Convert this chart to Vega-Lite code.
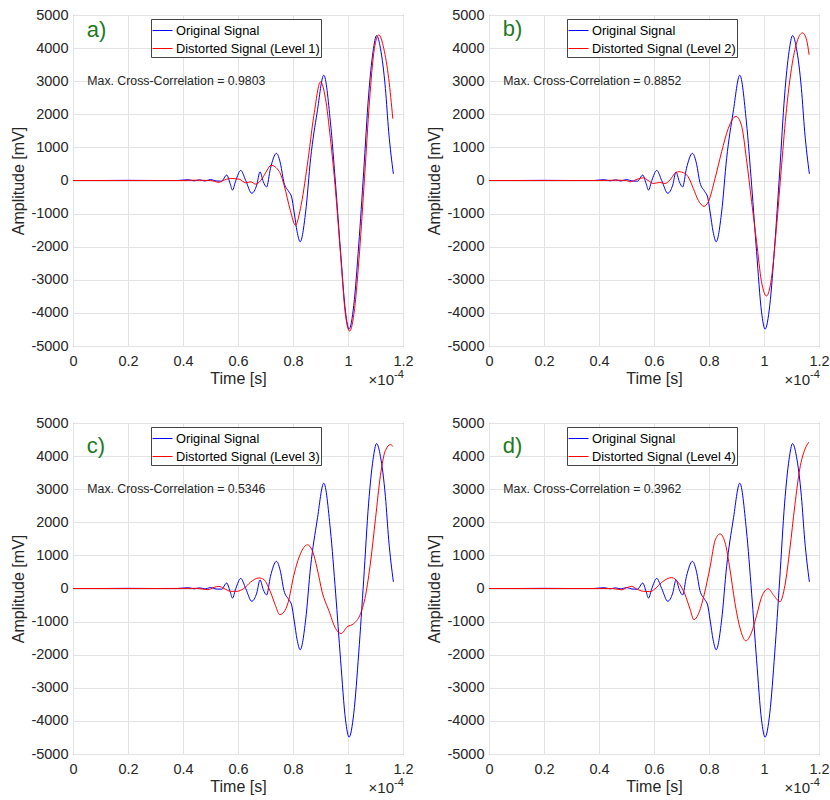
{
  "$schema": "https://vega.github.io/schema/vega-lite/v6.json",
  "background": "white",
  "padding": {"left": 10, "top": 6, "right": 5, "bottom": 5},
  "bounds": "flush",
  "columns": 2,
  "spacing": {"row": 77, "column": 86},
  "resolve": {"scale": {"color": "shared"}, "legend": {"color": "independent"}},
  "config": {
    "font": "Liberation Sans",
    "view": {"stroke": "#666666", "strokeWidth": 1},
    "axis": {
      "labelFont": "Liberation Sans", "labelFontSize": 14.5, "labelColor": "#262626",
      "titleFont": "Liberation Sans", "titleFontSize": 16, "titleFontWeight": "normal", "titleColor": "#262626",
      "gridColor": "#e3e3e3", "gridWidth": 1, "domain": false, "ticks": false,
      "labelOverlap": false, "labelFlush": false, "labelBound": false
    },
    "legend": {
      "orient": "none", "legendX": 78, "legendY": 4, "title": null,
      "strokeColor": "#444444", "fillColor": "white", "padding": 1,
      "symbolType": "stroke", "symbolSize": 400, "symbolStrokeWidth": 1,
      "labelFont": "Liberation Sans", "labelFontSize": 12.8, "labelColor": "#000000",
      "labelOffset": 3, "rowPadding": 0
    }
  },
  "datasets": {
    "orig": [
      {"s": "Original Signal", "t": 0, "v": 0}, {"s": "Original Signal", "t": 0.1, "v": 0}, {"s": "Original Signal", "t": 0.2, "v": 5}, {"s": "Original Signal", "t": 0.3, "v": 0}, {"s": "Original Signal", "t": 0.38, "v": 0},
      {"s": "Original Signal", "t": 0.42, "v": 25}, {"s": "Original Signal", "t": 0.44, "v": -10}, {"s": "Original Signal", "t": 0.46, "v": 20}, {"s": "Original Signal", "t": 0.48, "v": -15}, {"s": "Original Signal", "t": 0.5, "v": 30},
      {"s": "Original Signal", "t": 0.52, "v": -15}, {"s": "Original Signal", "t": 0.54, "v": -20}, {"s": "Original Signal", "t": 0.559, "v": 165}, {"s": "Original Signal", "t": 0.571, "v": -85}, {"s": "Original Signal", "t": 0.58, "v": -290},
      {"s": "Original Signal", "t": 0.592, "v": 0}, {"s": "Original Signal", "t": 0.61, "v": 305}, {"s": "Original Signal", "t": 0.628, "v": 0}, {"s": "Original Signal", "t": 0.65, "v": -385}, {"s": "Original Signal", "t": 0.668, "v": -140},
      {"s": "Original Signal", "t": 0.68, "v": 260}, {"s": "Original Signal", "t": 0.692, "v": -35}, {"s": "Original Signal", "t": 0.704, "v": -195}, {"s": "Original Signal", "t": 0.718, "v": 365}, {"s": "Original Signal", "t": 0.74, "v": 820},
      {"s": "Original Signal", "t": 0.755, "v": 490}, {"s": "Original Signal", "t": 0.767, "v": -60}, {"s": "Original Signal", "t": 0.785, "v": -340}, {"s": "Original Signal", "t": 0.795, "v": -500}, {"s": "Original Signal", "t": 0.804, "v": -950},
      {"s": "Original Signal", "t": 0.815, "v": -1550}, {"s": "Original Signal", "t": 0.826, "v": -1850}, {"s": "Original Signal", "t": 0.846, "v": -950}, {"s": "Original Signal", "t": 0.864, "v": 660}, {"s": "Original Signal", "t": 0.888, "v": 2070},
      {"s": "Original Signal", "t": 0.912, "v": 3180}, {"s": "Original Signal", "t": 0.936, "v": 1770}, {"s": "Original Signal", "t": 0.955, "v": -140}, {"s": "Original Signal", "t": 0.973, "v": -2150}, {"s": "Original Signal", "t": 0.991, "v": -3970},
      {"s": "Original Signal", "t": 1.004, "v": -4490}, {"s": "Original Signal", "t": 1.021, "v": -3770}, {"s": "Original Signal", "t": 1.039, "v": -1950}, {"s": "Original Signal", "t": 1.057, "v": 260}, {"s": "Original Signal", "t": 1.075, "v": 2580},
      {"s": "Original Signal", "t": 1.091, "v": 3890}, {"s": "Original Signal", "t": 1.104, "v": 4380}, {"s": "Original Signal", "t": 1.118, "v": 3990}, {"s": "Original Signal", "t": 1.136, "v": 2780}, {"s": "Original Signal", "t": 1.148, "v": 1470},
      {"s": "Original Signal", "t": 1.165, "v": 200}
    ],
    "d1": [
      {"s": "Distorted Signal (Level 1)", "t": 0, "v": 0}, {"s": "Distorted Signal (Level 1)", "t": 0.2, "v": 0}, {"s": "Distorted Signal (Level 1)", "t": 0.4, "v": 0}, {"s": "Distorted Signal (Level 1)", "t": 0.45, "v": 10}, {"s": "Distorted Signal (Level 1)", "t": 0.5, "v": 0},
      {"s": "Distorted Signal (Level 1)", "t": 0.531, "v": -55}, {"s": "Distorted Signal (Level 1)", "t": 0.543, "v": -10}, {"s": "Distorted Signal (Level 1)", "t": 0.573, "v": 60}, {"s": "Distorted Signal (Level 1)", "t": 0.604, "v": 40}, {"s": "Distorted Signal (Level 1)", "t": 0.628, "v": -70},
      {"s": "Distorted Signal (Level 1)", "t": 0.646, "v": -40}, {"s": "Distorted Signal (Level 1)", "t": 0.664, "v": -110}, {"s": "Distorted Signal (Level 1)", "t": 0.688, "v": 60}, {"s": "Distorted Signal (Level 1)", "t": 0.705, "v": 300}, {"s": "Distorted Signal (Level 1)", "t": 0.72, "v": 460},
      {"s": "Distorted Signal (Level 1)", "t": 0.75, "v": 270}, {"s": "Distorted Signal (Level 1)", "t": 0.768, "v": -150}, {"s": "Distorted Signal (Level 1)", "t": 0.79, "v": -900}, {"s": "Distorted Signal (Level 1)", "t": 0.809, "v": -1350}, {"s": "Distorted Signal (Level 1)", "t": 0.827, "v": -850},
      {"s": "Distorted Signal (Level 1)", "t": 0.852, "v": 460}, {"s": "Distorted Signal (Level 1)", "t": 0.876, "v": 1970}, {"s": "Distorted Signal (Level 1)", "t": 0.9, "v": 2980}, {"s": "Distorted Signal (Level 1)", "t": 0.918, "v": 2480}, {"s": "Distorted Signal (Level 1)", "t": 0.936, "v": 1270},
      {"s": "Distorted Signal (Level 1)", "t": 0.955, "v": -340}, {"s": "Distorted Signal (Level 1)", "t": 0.973, "v": -2250}, {"s": "Distorted Signal (Level 1)", "t": 0.991, "v": -4070}, {"s": "Distorted Signal (Level 1)", "t": 1.006, "v": -4550}, {"s": "Distorted Signal (Level 1)", "t": 1.024, "v": -3870},
      {"s": "Distorted Signal (Level 1)", "t": 1.042, "v": -2150}, {"s": "Distorted Signal (Level 1)", "t": 1.06, "v": 60}, {"s": "Distorted Signal (Level 1)", "t": 1.078, "v": 2380}, {"s": "Distorted Signal (Level 1)", "t": 1.096, "v": 3990}, {"s": "Distorted Signal (Level 1)", "t": 1.112, "v": 4400},
      {"s": "Distorted Signal (Level 1)", "t": 1.13, "v": 3990}, {"s": "Distorted Signal (Level 1)", "t": 1.148, "v": 3080}, {"s": "Distorted Signal (Level 1)", "t": 1.163, "v": 1870}
    ],
    "d2": [
      {"s": "Distorted Signal (Level 2)", "t": 0, "v": 0}, {"s": "Distorted Signal (Level 2)", "t": 0.2, "v": 0}, {"s": "Distorted Signal (Level 2)", "t": 0.4, "v": 0}, {"s": "Distorted Signal (Level 2)", "t": 0.47, "v": 10}, {"s": "Distorted Signal (Level 2)", "t": 0.5, "v": 0},
      {"s": "Distorted Signal (Level 2)", "t": 0.513, "v": -40}, {"s": "Distorted Signal (Level 2)", "t": 0.525, "v": -10}, {"s": "Distorted Signal (Level 2)", "t": 0.55, "v": 70}, {"s": "Distorted Signal (Level 2)", "t": 0.561, "v": 80}, {"s": "Distorted Signal (Level 2)", "t": 0.579, "v": 0},
      {"s": "Distorted Signal (Level 2)", "t": 0.597, "v": -90}, {"s": "Distorted Signal (Level 2)", "t": 0.621, "v": -60}, {"s": "Distorted Signal (Level 2)", "t": 0.64, "v": -90}, {"s": "Distorted Signal (Level 2)", "t": 0.658, "v": 15}, {"s": "Distorted Signal (Level 2)", "t": 0.676, "v": 215},
      {"s": "Distorted Signal (Level 2)", "t": 0.69, "v": 265}, {"s": "Distorted Signal (Level 2)", "t": 0.712, "v": 215}, {"s": "Distorted Signal (Level 2)", "t": 0.724, "v": 115}, {"s": "Distorted Signal (Level 2)", "t": 0.743, "v": -240}, {"s": "Distorted Signal (Level 2)", "t": 0.761, "v": -600},
      {"s": "Distorted Signal (Level 2)", "t": 0.782, "v": -780}, {"s": "Distorted Signal (Level 2)", "t": 0.797, "v": -650}, {"s": "Distorted Signal (Level 2)", "t": 0.822, "v": 60}, {"s": "Distorted Signal (Level 2)", "t": 0.846, "v": 870}, {"s": "Distorted Signal (Level 2)", "t": 0.87, "v": 1570},
      {"s": "Distorted Signal (Level 2)", "t": 0.898, "v": 1940}, {"s": "Distorted Signal (Level 2)", "t": 0.918, "v": 1670}, {"s": "Distorted Signal (Level 2)", "t": 0.936, "v": 660}, {"s": "Distorted Signal (Level 2)", "t": 0.955, "v": -640}, {"s": "Distorted Signal (Level 2)", "t": 0.973, "v": -1850},
      {"s": "Distorted Signal (Level 2)", "t": 0.991, "v": -3060}, {"s": "Distorted Signal (Level 2)", "t": 1.009, "v": -3490}, {"s": "Distorted Signal (Level 2)", "t": 1.027, "v": -2960}, {"s": "Distorted Signal (Level 2)", "t": 1.045, "v": -1450}, {"s": "Distorted Signal (Level 2)", "t": 1.064, "v": 460},
      {"s": "Distorted Signal (Level 2)", "t": 1.082, "v": 2170}, {"s": "Distorted Signal (Level 2)", "t": 1.106, "v": 3690}, {"s": "Distorted Signal (Level 2)", "t": 1.14, "v": 4460}, {"s": "Distorted Signal (Level 2)", "t": 1.155, "v": 4240}, {"s": "Distorted Signal (Level 2)", "t": 1.164, "v": 3800}
    ],
    "d3": [
      {"s": "Distorted Signal (Level 3)", "t": 0, "v": 0}, {"s": "Distorted Signal (Level 3)", "t": 0.2, "v": 0}, {"s": "Distorted Signal (Level 3)", "t": 0.3, "v": 0}, {"s": "Distorted Signal (Level 3)", "t": 0.45, "v": 5}, {"s": "Distorted Signal (Level 3)", "t": 0.49, "v": -35},
      {"s": "Distorted Signal (Level 3)", "t": 0.513, "v": 35}, {"s": "Distorted Signal (Level 3)", "t": 0.531, "v": 65}, {"s": "Distorted Signal (Level 3)", "t": 0.549, "v": 0}, {"s": "Distorted Signal (Level 3)", "t": 0.573, "v": -85}, {"s": "Distorted Signal (Level 3)", "t": 0.597, "v": -85},
      {"s": "Distorted Signal (Level 3)", "t": 0.621, "v": 0}, {"s": "Distorted Signal (Level 3)", "t": 0.646, "v": 195}, {"s": "Distorted Signal (Level 3)", "t": 0.676, "v": 320}, {"s": "Distorted Signal (Level 3)", "t": 0.694, "v": 270}, {"s": "Distorted Signal (Level 3)", "t": 0.718, "v": -105},
      {"s": "Distorted Signal (Level 3)", "t": 0.736, "v": -510}, {"s": "Distorted Signal (Level 3)", "t": 0.752, "v": -790}, {"s": "Distorted Signal (Level 3)", "t": 0.767, "v": -710}, {"s": "Distorted Signal (Level 3)", "t": 0.782, "v": -430}, {"s": "Distorted Signal (Level 3)", "t": 0.803, "v": 400},
      {"s": "Distorted Signal (Level 3)", "t": 0.827, "v": 1050}, {"s": "Distorted Signal (Level 3)", "t": 0.852, "v": 1320}, {"s": "Distorted Signal (Level 3)", "t": 0.87, "v": 1150}, {"s": "Distorted Signal (Level 3)", "t": 0.888, "v": 600}, {"s": "Distorted Signal (Level 3)", "t": 0.906, "v": -105},
      {"s": "Distorted Signal (Level 3)", "t": 0.93, "v": -660}, {"s": "Distorted Signal (Level 3)", "t": 0.955, "v": -1210}, {"s": "Distorted Signal (Level 3)", "t": 0.975, "v": -1360}, {"s": "Distorted Signal (Level 3)", "t": 0.997, "v": -1160}, {"s": "Distorted Signal (Level 3)", "t": 1.021, "v": -1060},
      {"s": "Distorted Signal (Level 3)", "t": 1.043, "v": -810}, {"s": "Distorted Signal (Level 3)", "t": 1.064, "v": -200}, {"s": "Distorted Signal (Level 3)", "t": 1.082, "v": 800}, {"s": "Distorted Signal (Level 3)", "t": 1.1, "v": 2110}, {"s": "Distorted Signal (Level 3)", "t": 1.118, "v": 3420},
      {"s": "Distorted Signal (Level 3)", "t": 1.136, "v": 4170}, {"s": "Distorted Signal (Level 3)", "t": 1.155, "v": 4350}, {"s": "Distorted Signal (Level 3)", "t": 1.163, "v": 4290}
    ],
    "d4": [
      {"s": "Distorted Signal (Level 4)", "t": 0, "v": 0}, {"s": "Distorted Signal (Level 4)", "t": 0.2, "v": 0}, {"s": "Distorted Signal (Level 4)", "t": 0.3, "v": 0}, {"s": "Distorted Signal (Level 4)", "t": 0.45, "v": 0}, {"s": "Distorted Signal (Level 4)", "t": 0.482, "v": -40},
      {"s": "Distorted Signal (Level 4)", "t": 0.501, "v": 25}, {"s": "Distorted Signal (Level 4)", "t": 0.519, "v": 65}, {"s": "Distorted Signal (Level 4)", "t": 0.537, "v": -15}, {"s": "Distorted Signal (Level 4)", "t": 0.561, "v": -85}, {"s": "Distorted Signal (Level 4)", "t": 0.585, "v": -95},
      {"s": "Distorted Signal (Level 4)", "t": 0.603, "v": -15}, {"s": "Distorted Signal (Level 4)", "t": 0.628, "v": 185}, {"s": "Distorted Signal (Level 4)", "t": 0.664, "v": 330}, {"s": "Distorted Signal (Level 4)", "t": 0.688, "v": 185}, {"s": "Distorted Signal (Level 4)", "t": 0.712, "v": -165},
      {"s": "Distorted Signal (Level 4)", "t": 0.731, "v": -620}, {"s": "Distorted Signal (Level 4)", "t": 0.745, "v": -940}, {"s": "Distorted Signal (Level 4)", "t": 0.761, "v": -780}, {"s": "Distorted Signal (Level 4)", "t": 0.782, "v": -200}, {"s": "Distorted Signal (Level 4)", "t": 0.805, "v": 700},
      {"s": "Distorted Signal (Level 4)", "t": 0.822, "v": 1450}, {"s": "Distorted Signal (Level 4)", "t": 0.84, "v": 1650}, {"s": "Distorted Signal (Level 4)", "t": 0.858, "v": 1400}, {"s": "Distorted Signal (Level 4)", "t": 0.876, "v": 590}, {"s": "Distorted Signal (Level 4)", "t": 0.894, "v": -420},
      {"s": "Distorted Signal (Level 4)", "t": 0.912, "v": -1170}, {"s": "Distorted Signal (Level 4)", "t": 0.934, "v": -1580}, {"s": "Distorted Signal (Level 4)", "t": 0.955, "v": -1320}, {"s": "Distorted Signal (Level 4)", "t": 0.973, "v": -820}, {"s": "Distorted Signal (Level 4)", "t": 0.991, "v": -265},
      {"s": "Distorted Signal (Level 4)", "t": 1.015, "v": -10}, {"s": "Distorted Signal (Level 4)", "t": 1.036, "v": -215}, {"s": "Distorted Signal (Level 4)", "t": 1.058, "v": -400}, {"s": "Distorted Signal (Level 4)", "t": 1.076, "v": 90}, {"s": "Distorted Signal (Level 4)", "t": 1.094, "v": 1190},
      {"s": "Distorted Signal (Level 4)", "t": 1.112, "v": 2500}, {"s": "Distorted Signal (Level 4)", "t": 1.13, "v": 3610}, {"s": "Distorted Signal (Level 4)", "t": 1.149, "v": 4210}, {"s": "Distorted Signal (Level 4)", "t": 1.163, "v": 4420}
    ]
  },
  "concat": [
    {
      "width": 330, "height": 331,
      "layer": [
        {"data": {"name": "orig"}, "mark": {"type": "line", "strokeWidth": 1, "interpolate": "monotone"},
         "encoding": {
           "x": {"field": "t", "type": "quantitative", "scale": {"domain": [0, 1.2], "nice": false}, "axis": {"title": "Time [s]", "values": [0, 0.2, 0.4, 0.6, 0.8, 1, 1.2], "tickCount": 20, "labelExpr": "'' + datum.value", "labelPadding": 8, "titlePadding": 3, "labelOverlap": false}},
           "y": {"field": "v", "type": "quantitative", "scale": {"domain": [-5000, 5000], "nice": false}, "axis": {"title": "Amplitude [mV]", "values": [-5000, -4000, -3000, -2000, -1000, 0, 1000, 2000, 3000, 4000, 5000], "tickCount": 20, "labelExpr": "'' + datum.value", "labelPadding": 5, "titlePadding": 4, "labelOverlap": false}},
           "color": {"field": "s", "type": "nominal", "scale": {"domain": ["Original Signal", "Distorted Signal (Level 1)", "Distorted Signal (Level 2)", "Distorted Signal (Level 3)", "Distorted Signal (Level 4)"], "range": ["#0000ff", "#ff0000", "#ff0000", "#ff0000", "#ff0000"]}, "legend": {"values": ["Original Signal", "Distorted Signal (Level 1)"]}}
         }},
        {"data": {"name": "d1"}, "mark": {"type": "line", "strokeWidth": 1, "interpolate": "monotone"},
         "encoding": {"x": {"field": "t", "type": "quantitative"}, "y": {"field": "v", "type": "quantitative"}, "color": {"field": "s", "type": "nominal"}}},
        {"data": {"values": [{}]}, "mark": {"type": "text", "text": "a)", "fontSize": 22, "color": "#1f7a1f", "align": "left", "baseline": "middle"},
         "encoding": {"x": {"datum": 0.05, "type": "quantitative"}, "y": {"datum": 4540, "type": "quantitative"}}},
        {"data": {"values": [{}]}, "mark": {"type": "text", "text": "Max. Cross-Correlation = 0.9803", "fontSize": 12.3, "color": "#262626", "align": "left", "baseline": "middle"},
         "encoding": {"x": {"datum": 0.052, "type": "quantitative"}, "y": {"datum": 3000, "type": "quantitative"}}},
        {"data": {"values": [{}]}, "mark": {"type": "text", "text": "×10", "fontSize": 15, "color": "#262626", "align": "right", "baseline": "middle", "dx": -9, "dy": 34},
         "encoding": {"x": {"datum": 1.2, "type": "quantitative"}, "y": {"datum": -5000, "type": "quantitative"}}},
        {"data": {"values": [{}]}, "mark": {"type": "text", "text": "-4", "fontSize": 11, "color": "#262626", "align": "left", "baseline": "middle", "dx": -9, "dy": 29},
         "encoding": {"x": {"datum": 1.2, "type": "quantitative"}, "y": {"datum": -5000, "type": "quantitative"}}}
      ]
    },
    {
      "width": 330, "height": 331,
      "layer": [
        {"data": {"name": "orig"}, "mark": {"type": "line", "strokeWidth": 1, "interpolate": "monotone"},
         "encoding": {
           "x": {"field": "t", "type": "quantitative", "scale": {"domain": [0, 1.2], "nice": false}, "axis": {"title": "Time [s]", "values": [0, 0.2, 0.4, 0.6, 0.8, 1, 1.2], "tickCount": 20, "labelExpr": "'' + datum.value", "labelPadding": 8, "titlePadding": 3, "labelOverlap": false}},
           "y": {"field": "v", "type": "quantitative", "scale": {"domain": [-5000, 5000], "nice": false}, "axis": {"title": "Amplitude [mV]", "values": [-5000, -4000, -3000, -2000, -1000, 0, 1000, 2000, 3000, 4000, 5000], "tickCount": 20, "labelExpr": "'' + datum.value", "labelPadding": 5, "titlePadding": 4, "labelOverlap": false}},
           "color": {"field": "s", "type": "nominal", "scale": {"domain": ["Original Signal", "Distorted Signal (Level 1)", "Distorted Signal (Level 2)", "Distorted Signal (Level 3)", "Distorted Signal (Level 4)"], "range": ["#0000ff", "#ff0000", "#ff0000", "#ff0000", "#ff0000"]}, "legend": {"values": ["Original Signal", "Distorted Signal (Level 2)"]}}
         }},
        {"data": {"name": "d2"}, "mark": {"type": "line", "strokeWidth": 1, "interpolate": "monotone"},
         "encoding": {"x": {"field": "t", "type": "quantitative"}, "y": {"field": "v", "type": "quantitative"}, "color": {"field": "s", "type": "nominal"}}},
        {"data": {"values": [{}]}, "mark": {"type": "text", "text": "b)", "fontSize": 22, "color": "#1f7a1f", "align": "left", "baseline": "middle"},
         "encoding": {"x": {"datum": 0.05, "type": "quantitative"}, "y": {"datum": 4570, "type": "quantitative"}}},
        {"data": {"values": [{}]}, "mark": {"type": "text", "text": "Max. Cross-Correlation = 0.8852", "fontSize": 12.3, "color": "#262626", "align": "left", "baseline": "middle"},
         "encoding": {"x": {"datum": 0.052, "type": "quantitative"}, "y": {"datum": 3000, "type": "quantitative"}}},
        {"data": {"values": [{}]}, "mark": {"type": "text", "text": "×10", "fontSize": 15, "color": "#262626", "align": "right", "baseline": "middle", "dx": -9, "dy": 34},
         "encoding": {"x": {"datum": 1.2, "type": "quantitative"}, "y": {"datum": -5000, "type": "quantitative"}}},
        {"data": {"values": [{}]}, "mark": {"type": "text", "text": "-4", "fontSize": 11, "color": "#262626", "align": "left", "baseline": "middle", "dx": -9, "dy": 29},
         "encoding": {"x": {"datum": 1.2, "type": "quantitative"}, "y": {"datum": -5000, "type": "quantitative"}}}
      ]
    },
    {
      "width": 330, "height": 331,
      "layer": [
        {"data": {"name": "orig"}, "mark": {"type": "line", "strokeWidth": 1, "interpolate": "monotone"},
         "encoding": {
           "x": {"field": "t", "type": "quantitative", "scale": {"domain": [0, 1.2], "nice": false}, "axis": {"title": "Time [s]", "values": [0, 0.2, 0.4, 0.6, 0.8, 1, 1.2], "tickCount": 20, "labelExpr": "'' + datum.value", "labelPadding": 8, "titlePadding": 3, "labelOverlap": false}},
           "y": {"field": "v", "type": "quantitative", "scale": {"domain": [-5000, 5000], "nice": false}, "axis": {"title": "Amplitude [mV]", "values": [-5000, -4000, -3000, -2000, -1000, 0, 1000, 2000, 3000, 4000, 5000], "tickCount": 20, "labelExpr": "'' + datum.value", "labelPadding": 5, "titlePadding": 4, "labelOverlap": false}},
           "color": {"field": "s", "type": "nominal", "scale": {"domain": ["Original Signal", "Distorted Signal (Level 1)", "Distorted Signal (Level 2)", "Distorted Signal (Level 3)", "Distorted Signal (Level 4)"], "range": ["#0000ff", "#ff0000", "#ff0000", "#ff0000", "#ff0000"]}, "legend": {"values": ["Original Signal", "Distorted Signal (Level 3)"]}}
         }},
        {"data": {"name": "d3"}, "mark": {"type": "line", "strokeWidth": 1, "interpolate": "monotone"},
         "encoding": {"x": {"field": "t", "type": "quantitative"}, "y": {"field": "v", "type": "quantitative"}, "color": {"field": "s", "type": "nominal"}}},
        {"data": {"values": [{}]}, "mark": {"type": "text", "text": "c)", "fontSize": 22, "color": "#1f7a1f", "align": "left", "baseline": "middle"},
         "encoding": {"x": {"datum": 0.05, "type": "quantitative"}, "y": {"datum": 4300, "type": "quantitative"}}},
        {"data": {"values": [{}]}, "mark": {"type": "text", "text": "Max. Cross-Correlation = 0.5346", "fontSize": 12.3, "color": "#262626", "align": "left", "baseline": "middle"},
         "encoding": {"x": {"datum": 0.052, "type": "quantitative"}, "y": {"datum": 3000, "type": "quantitative"}}},
        {"data": {"values": [{}]}, "mark": {"type": "text", "text": "×10", "fontSize": 15, "color": "#262626", "align": "right", "baseline": "middle", "dx": -9, "dy": 34},
         "encoding": {"x": {"datum": 1.2, "type": "quantitative"}, "y": {"datum": -5000, "type": "quantitative"}}},
        {"data": {"values": [{}]}, "mark": {"type": "text", "text": "-4", "fontSize": 11, "color": "#262626", "align": "left", "baseline": "middle", "dx": -9, "dy": 29},
         "encoding": {"x": {"datum": 1.2, "type": "quantitative"}, "y": {"datum": -5000, "type": "quantitative"}}}
      ]
    },
    {
      "width": 330, "height": 331,
      "layer": [
        {"data": {"name": "orig"}, "mark": {"type": "line", "strokeWidth": 1, "interpolate": "monotone"},
         "encoding": {
           "x": {"field": "t", "type": "quantitative", "scale": {"domain": [0, 1.2], "nice": false}, "axis": {"title": "Time [s]", "values": [0, 0.2, 0.4, 0.6, 0.8, 1, 1.2], "tickCount": 20, "labelExpr": "'' + datum.value", "labelPadding": 8, "titlePadding": 3, "labelOverlap": false}},
           "y": {"field": "v", "type": "quantitative", "scale": {"domain": [-5000, 5000], "nice": false}, "axis": {"title": "Amplitude [mV]", "values": [-5000, -4000, -3000, -2000, -1000, 0, 1000, 2000, 3000, 4000, 5000], "tickCount": 20, "labelExpr": "'' + datum.value", "labelPadding": 5, "titlePadding": 4, "labelOverlap": false}},
           "color": {"field": "s", "type": "nominal", "scale": {"domain": ["Original Signal", "Distorted Signal (Level 1)", "Distorted Signal (Level 2)", "Distorted Signal (Level 3)", "Distorted Signal (Level 4)"], "range": ["#0000ff", "#ff0000", "#ff0000", "#ff0000", "#ff0000"]}, "legend": {"values": ["Original Signal", "Distorted Signal (Level 4)"]}}
         }},
        {"data": {"name": "d4"}, "mark": {"type": "line", "strokeWidth": 1, "interpolate": "monotone"},
         "encoding": {"x": {"field": "t", "type": "quantitative"}, "y": {"field": "v", "type": "quantitative"}, "color": {"field": "s", "type": "nominal"}}},
        {"data": {"values": [{}]}, "mark": {"type": "text", "text": "d)", "fontSize": 22, "color": "#1f7a1f", "align": "left", "baseline": "middle"},
         "encoding": {"x": {"datum": 0.05, "type": "quantitative"}, "y": {"datum": 4300, "type": "quantitative"}}},
        {"data": {"values": [{}]}, "mark": {"type": "text", "text": "Max. Cross-Correlation = 0.3962", "fontSize": 12.3, "color": "#262626", "align": "left", "baseline": "middle"},
         "encoding": {"x": {"datum": 0.052, "type": "quantitative"}, "y": {"datum": 3000, "type": "quantitative"}}},
        {"data": {"values": [{}]}, "mark": {"type": "text", "text": "×10", "fontSize": 15, "color": "#262626", "align": "right", "baseline": "middle", "dx": -9, "dy": 34},
         "encoding": {"x": {"datum": 1.2, "type": "quantitative"}, "y": {"datum": -5000, "type": "quantitative"}}},
        {"data": {"values": [{}]}, "mark": {"type": "text", "text": "-4", "fontSize": 11, "color": "#262626", "align": "left", "baseline": "middle", "dx": -9, "dy": 29},
         "encoding": {"x": {"datum": 1.2, "type": "quantitative"}, "y": {"datum": -5000, "type": "quantitative"}}}
      ]
    }
  ]
}
